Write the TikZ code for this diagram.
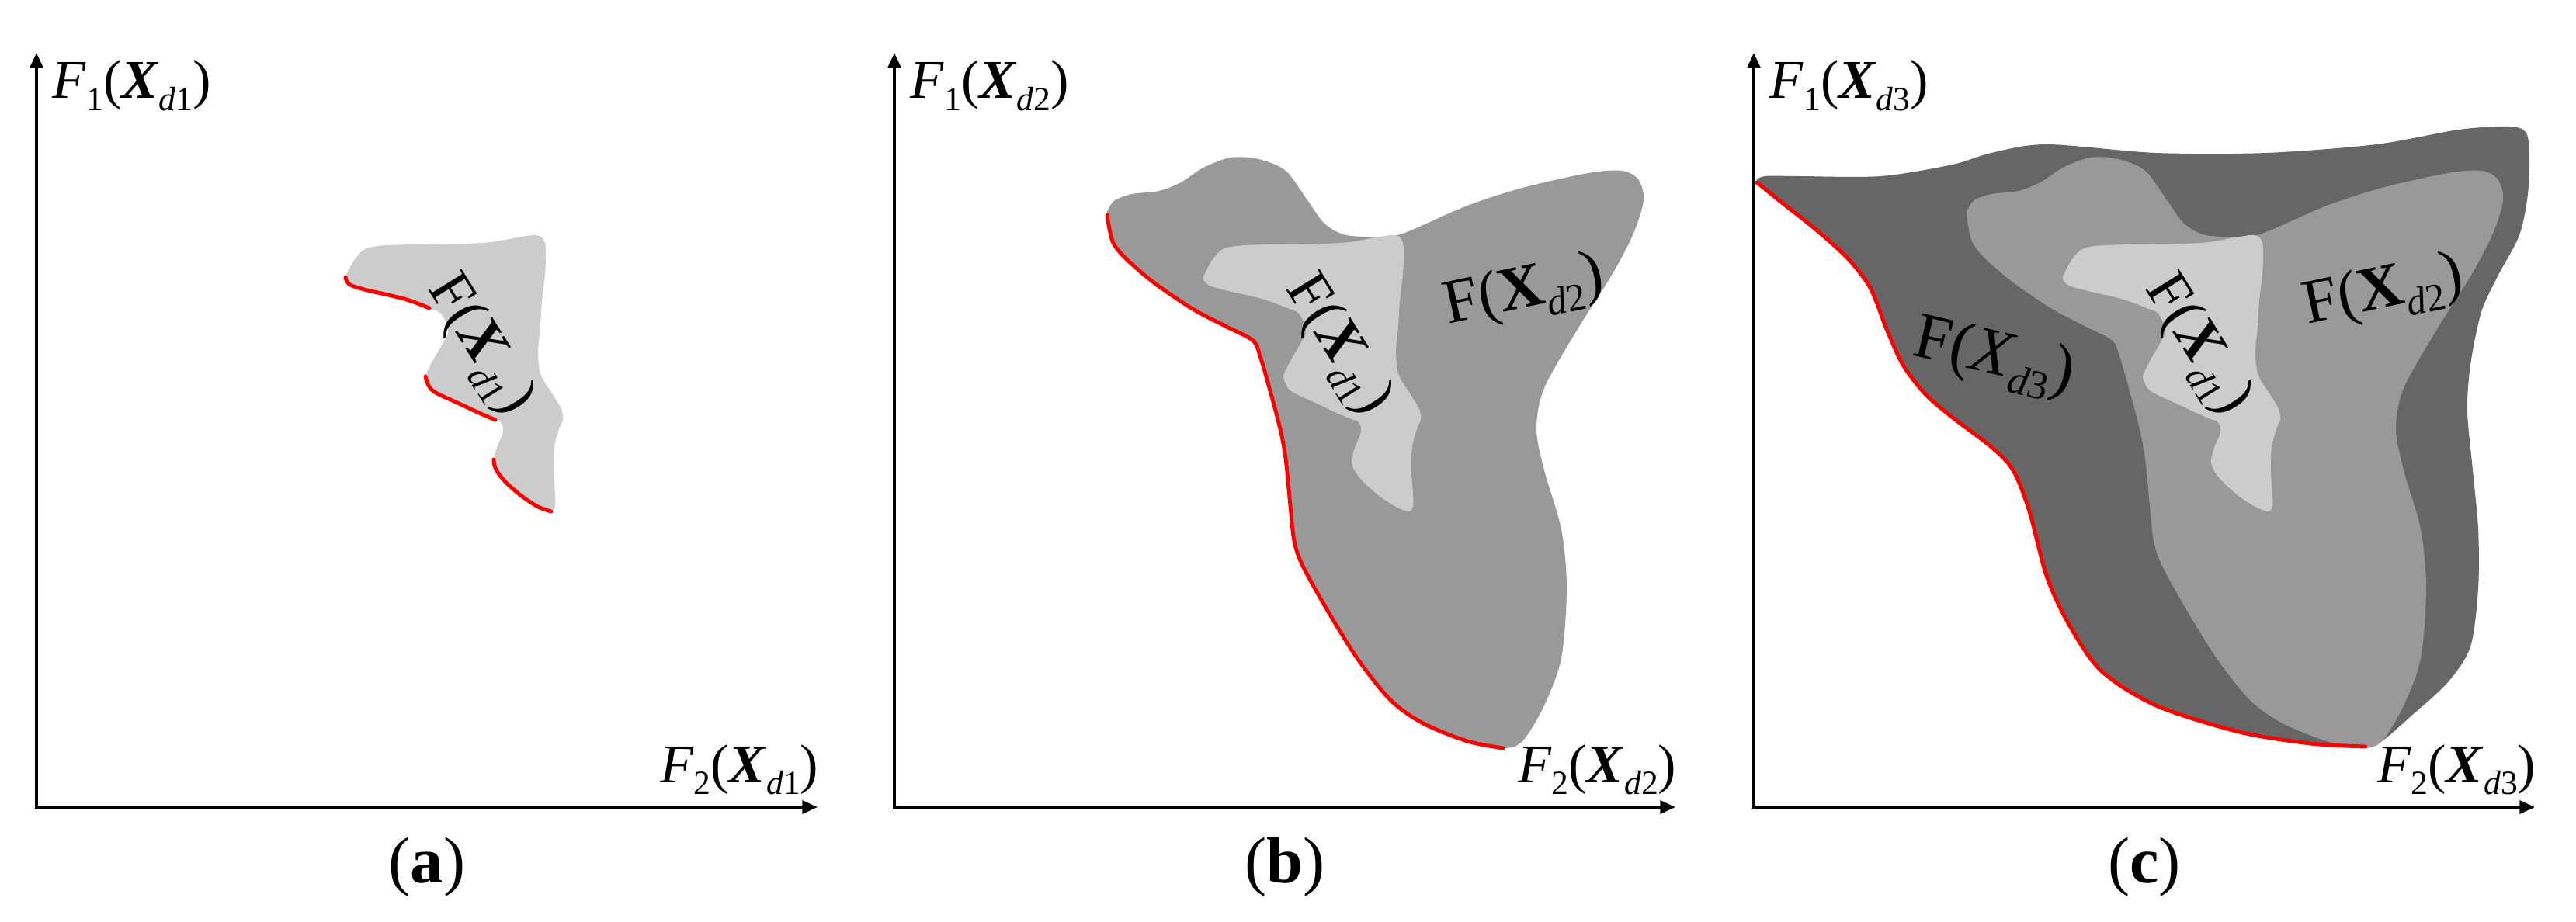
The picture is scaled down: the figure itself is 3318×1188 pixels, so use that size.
\documentclass[tikz,border=0pt]{standalone}
\usepackage{fontspec}
\usepackage{graphicx}
\setmainfont{Liberation Serif}
\usetikzlibrary{arrows.meta}
\definecolor{pflight}{RGB}{204,204,204}
\definecolor{pfmid}{RGB}{153,153,153}
\definecolor{pfdark}{RGB}{102,102,102}
\definecolor{pfred}{RGB}{255,0,0}
\newcommand{\lowsub}[1]{\raisebox{-.22em}{\scalebox{.62}{#1}}}
\newcommand{\axlab}[2]{\textit{F}\lowsub{#1}(\textbf{\textit{X}}\lowsub{\textit{d}#2})}
\tikzset{pareto/.style={pfred,line width=1.4pt,line cap=round},
  axis/.style={<->,line width=1.1pt}}

\begin{document}
\begin{tikzpicture}[x=.01cm,y=-.01cm,>={Triangle[length=5.6pt,width=4.8pt]},font=\fontsize{20}{24}\selectfont]
        \useasboundingbox (0,0) rectangle (3318,1188);
        % region d3, panel (c)
        \fill[pfdark,shift={(2212,0)}] plot[smooth cycle] coordinates {(51,235) (83,261) (126,295) (168,333) (197,371) (218,424) (239,470) (268,508) (303,538) (353,576) (381,606) (402,659) (424,742) (452,803) (494,864) (565,909) (672,943) (764,958) (835,962) (856,955) (892,924) (941,879) (970,833) (980,758) (980,682) (973,606) (966,530) (970,470) (984,402) (1005,356) (1033,303) (1044,250) (1046,197) (1041,170) (1019,163) (955,167) (849,186) (707,197) (565,197) (424,186) (353,197) (303,212) (211,227) (104,227) (62,227)};
        % region d2, panels (b) and (c)
        \foreach \s in {1105,2212}
          \fill[pfmid,shift={(\s,0)}] plot[smooth cycle] coordinates {(321,277) (328,311) (345,333) (381,364) (431,398) (473,420) (509,439) (519,462) (530,500) (544,553) (551,591) (557,652) (562,697) (572,727) (601,780) (643,848) (686,902) (728,932) (785,955) (831,964) (856,955) (884,909) (906,848) (913,758) (906,682) (884,606) (874,553) (884,500) (927,424) (970,356) (998,303) (1012,258) (1005,231) (984,220) (941,223) (856,242) (785,265) (707,299) (679,305) (629,303) (601,288) (579,258) (551,220) (516,205) (480,203) (445,216) (416,235) (388,246) (353,250) (331,258) (323,269)};
        % region d1, all panels
        \foreach \s in {0,1105,2212}
          \fill[pflight,shift={(\s,0)}] plot[smooth cycle] coordinates {(445,357) (455,337) (467,323) (480,318) (500,316) (533,315) (567,315) (600,314) (633,312) (667,306) (687,303) (697,305) (702,313) (703,327) (702,353) (698,387) (696,420) (693,453) (695,477) (700,490) (713,510) (723,527) (725,540) (720,553) (715,570) (713,587) (713,610) (715,637) (715,652) (710,659) (693,653) (673,640) (653,623) (642,610) (637,600) (636,592) (640,577) (647,560) (648,550) (643,542) (638,541) (617,532) (587,518) (563,507) (554,500) (550,492) (548,485) (552,475) (560,460) (570,443) (577,430) (575,417) (567,403) (553,397) (527,387) (500,380) (473,374) (453,368) (447,363)};
        % fronts
        \draw[pareto] plot[smooth] coordinates {(553,397) (527,387) (500,380) (473,374) (453,368) (447,363) (445,357)};
        \draw[pareto] plot[smooth] coordinates {(638,541) (617,532) (587,518) (563,507) (554,500) (550,492) (548,485)};
        \draw[pareto] plot[smooth] coordinates {(710,659) (693,653) (673,640) (653,623) (642,610) (637,600) (636,592)};
        \draw[pareto,shift={(1105,0)}] plot[smooth] coordinates {(321,277) (328,311) (345,333) (381,364) (431,398) (473,420) (509,439) (519,462) (530,500) (544,553) (551,591) (557,652) (562,697) (572,727) (601,780) (643,848) (686,902) (728,932) (785,955) (831,964)};
        \draw[pareto,shift={(2212,0)}] plot[smooth] coordinates {(51,235) (83,261) (126,295) (168,333) (197,371) (218,424) (239,470) (268,508) (303,538) (353,576) (381,606) (402,659) (424,742) (452,803) (494,864) (565,909) (672,943) (764,958) (835,962)};
        % axes and labels
        \foreach \s/\t/\k in {0/a/1,1105/b/2,2212/c/3} {
          \begin{scope}[shift={(\s,0)}]
            \coordinate (ytip\k) at (47,68);
            \coordinate (xtip\k) at (1053,1040);
            \draw[axis] (ytip\k) |- (xtip\k);
            \node[anchor=base west,inner sep=0pt] (fone\k) at (67,127) {\axlab{1}{\k}};
            \node[anchor=base east,inner sep=0pt] (ftwo\k) at (1055,1008) {\axlab{2}{\k}};
            \node[font=\fontsize{24}{28}\selectfont] (tag\k) at (550,1117) {(\textbf{\t})};
            \node[rotate=-58,font=\fontsize{22}{24}\selectfont] (done\k) at (618,445) {F(\textbf{\textit{X}}\lowsub{\textit{d}1})};
          \end{scope}
        }
        \foreach \s/\k in {1105/b,2212/c}
          \node[rotate=12,font=\fontsize{23}{26}\selectfont] (dtwo\k) at ([shift={(\s,0)}]858,377) {F(\textbf{X}\lowsub{\textit{d}2})};
        \node[rotate=-13,font=\fontsize{24}{28}\selectfont] (dthree) at (2568,462) {F(\textit{X}\lowsub{\textit{d}3})};
\end{tikzpicture}
\end{document}
